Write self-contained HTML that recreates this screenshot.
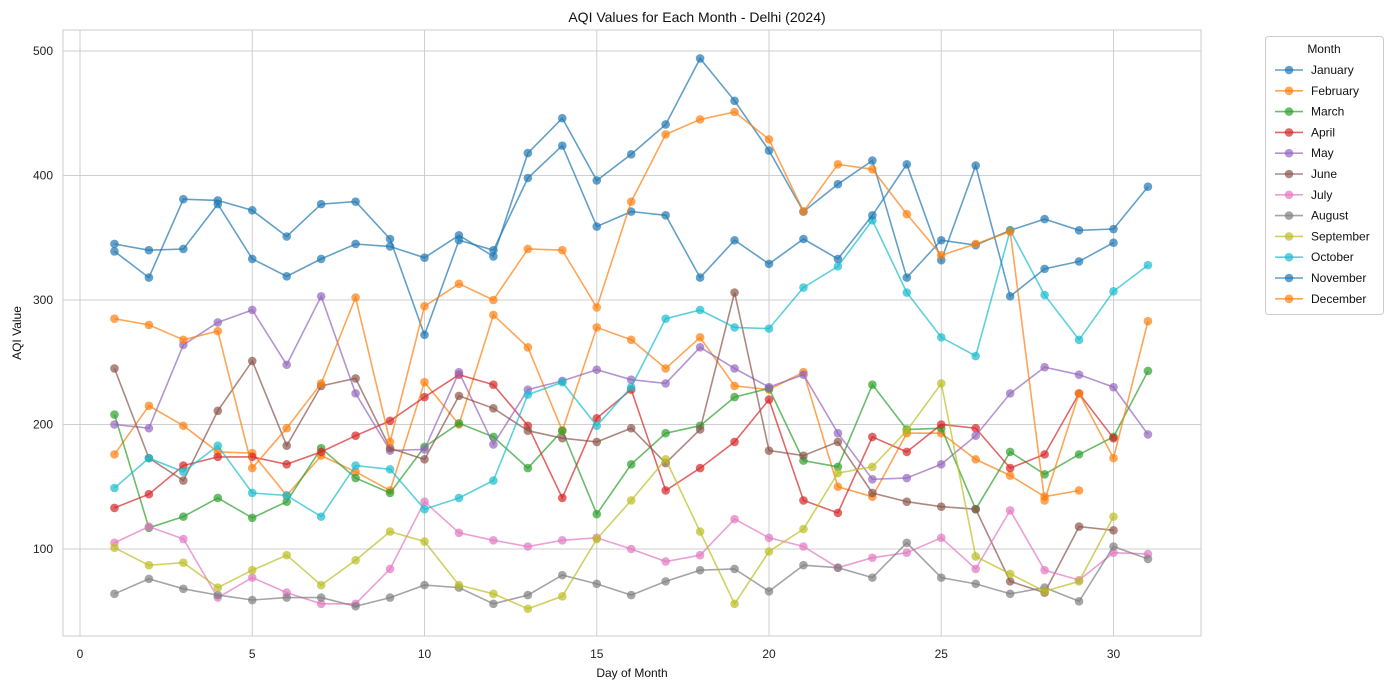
<!DOCTYPE html>
<html><head><meta charset="utf-8"><style>
body{margin:0;background:#fff;}
svg{display:block;font-family:"Liberation Sans","DejaVu Sans",sans-serif;}
</style></head><body>
<svg id="s" width="1392" height="690" xmlns="http://www.w3.org/2000/svg">
<rect x="0" y="0" width="1392" height="690" fill="#fff"/>
<rect x="63" y="30" width="1138" height="606" fill="#fff" stroke="#ccc" stroke-width="1"/>
<g id="grid" stroke="#cfcfcf" stroke-width="1"></g>
<g id="ticks" font-size="12" fill="#222"></g>
<g id="series"></g>
<text x="697" y="22" text-anchor="middle" font-size="14" fill="#111">AQI Values for Each Month - Delhi (2024)</text>
<text x="632" y="677" text-anchor="middle" font-size="12" fill="#111">Day of Month</text>
<text transform="translate(21,333) rotate(-90)" text-anchor="middle" font-size="12" fill="#111">AQI Value</text>
<rect x="1265.5" y="36.5" width="118" height="278" rx="3" fill="#fff" stroke="#ccc"/>
<text x="1324" y="53" text-anchor="middle" font-size="12" fill="#111">Month</text>
<g id="legend" font-size="12" fill="#111"></g>
</svg>
<script>
var X=function(d){return 80+34.45*d;};
var Y=function(v){return 549-(v-100)*1.245;};
var ns="http://www.w3.org/2000/svg";
function el(p,t,a,txt){var e=document.createElementNS(ns,t);for(var k in a)e.setAttribute(k,a[k]);if(txt!==undefined)e.textContent=txt;document.getElementById(p).appendChild(e);}
[0,5,10,15,20,25,30].forEach(function(d){el("grid","line",{x1:X(d),x2:X(d),y1:30,y2:636});el("ticks","text",{x:X(d),y:658,"text-anchor":"middle"},d);});
[100,200,300,400,500].forEach(function(v){el("grid","line",{x1:63,x2:1201,y1:Y(v),y2:Y(v)});el("ticks","text",{x:53,y:Y(v)+4,"text-anchor":"end"},v);});
var S=[
["January","#1f77b4",[345,340,341,377,333,319,333,345,343,334,352,335,418,446,396,417,441,494,460,420,371,393,412,318,348,344,356,365,356,357,391]],
["February","#ff7f0e",[176,215,199,178,177,143,175,162,147,234,200,288,262,195,278,268,245,270,231,228,242,150,142,193,193,172,159,142,147]],
["March","#2ca02c",[208,117,126,141,125,138,181,157,145,182,201,190,165,195,128,168,193,199,222,229,171,166,232,196,197,132,178,160,176,190,243]],
["April","#d62728",[133,144,167,174,174,168,178,191,203,222,240,232,199,141,205,228,147,165,186,220,139,129,190,178,200,197,165,176,225,189]],
["May","#9467bd",[200,197,264,282,292,248,303,225,179,180,242,184,228,235,244,236,233,262,245,230,240,193,156,157,168,191,225,246,240,230,192]],
["June","#8c564b",[245,173,155,211,251,183,231,237,181,172,223,213,195,189,186,197,169,196,306,179,175,186,145,138,134,132,74,65,118,115]],
["July","#e377c2",[105,118,108,61,77,65,56,56,84,138,113,107,102,107,109,100,90,95,124,109,102,85,93,97,109,84,131,83,75,97,96]],
["August","#7f7f7f",[64,76,68,63,59,61,61,54,61,71,69,56,63,79,72,63,74,83,84,66,87,85,77,105,77,72,64,69,58,102,92]],
["September","#bcbd22",[101,87,89,69,83,95,71,91,114,106,71,64,52,62,108,139,172,114,56,98,116,161,166,195,233,94,80,66,74,126]],
["October","#17becf",[149,173,162,183,145,143,126,167,164,132,141,155,224,234,199,230,285,292,278,277,310,327,364,306,270,255,356,304,268,307,328]],
["November","#1f77b4",[339,318,381,380,372,351,377,379,349,272,348,340,398,424,359,371,368,318,348,329,349,333,368,409,332,408,303,325,331,346]],
["December","#ff7f0e",[285,280,268,275,165,197,233,302,186,295,313,300,341,340,294,379,433,445,451,429,371,409,405,369,336,345,355,139,225,173,283]]
];
S.forEach(function(s,i){
 var d="";s[2].forEach(function(v,j){d+=(j?"L":"M")+X(j+1).toFixed(1)+","+Y(v).toFixed(1);});
 el("series","path",{d:d,fill:"none",stroke:s[1],"stroke-width":1.6,opacity:0.7});
 s[2].forEach(function(v,j){el("series","circle",{cx:X(j+1),cy:Y(v),r:4.3,fill:s[1],opacity:0.7});});
 var ly=70+20.8*i;
 el("legend","line",{x1:1275,x2:1303,y1:ly,y2:ly,stroke:s[1],"stroke-width":1.6,opacity:0.7});
 el("legend","circle",{cx:1289,cy:ly,r:4.3,fill:s[1],opacity:0.7});
 el("legend","text",{x:1311,y:ly+4},s[0]);
});
</script>
</body></html>
